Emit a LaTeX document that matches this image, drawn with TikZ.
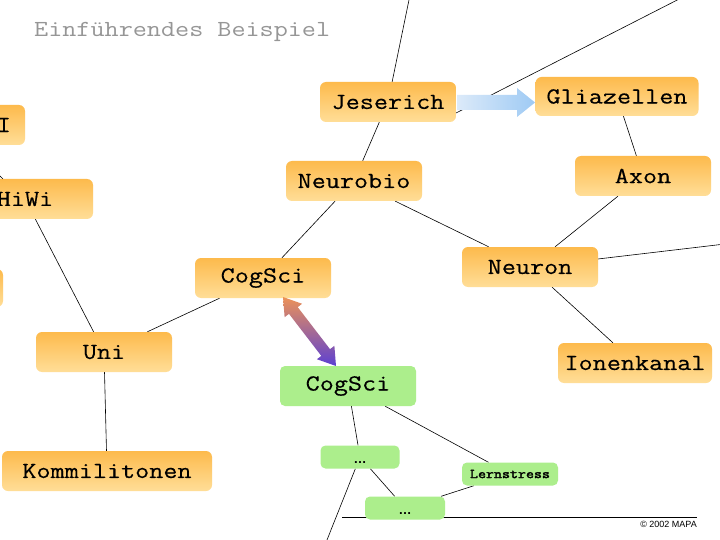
\documentclass[tikz,border=0pt]{standalone}
\usepackage{fontspec}
\setmainfont{Liberation Sans}
\newfontfamily\cour[FakeStretch=1.19,FakeBold=0.4]{Latin Modern Mono}
\newfontfamily\court[FakeStretch=1.19]{Latin Modern Mono}
\newfontfamily\courb[FakeStretch=1.15,FakeBold=2.2]{Latin Modern Mono}
\usetikzlibrary{backgrounds}
\definecolor{otop}{RGB}{253,186,76}
\definecolor{obot}{RGB}{255,222,152}
\definecolor{gfill}{RGB}{172,238,140}
\definecolor{blueL}{RGB}{220,234,249}
\definecolor{blueR}{RGB}{158,202,244}
\definecolor{aOr}{RGB}{236,146,88}
\definecolor{aPu}{RGB}{92,64,210}
\definecolor{titlegray}{RGB}{150,150,150}
\tikzset{
  onode/.style={rectangle, rounded corners=6pt, top color=otop, bottom color=obot, draw=none,
    minimum width=136pt, minimum height=40pt, inner sep=0pt, text=black,
    font=\cour\fontsize{23}{23}\selectfont},
  gnode/.style={rectangle, rounded corners=5pt, fill=gfill, draw=none,
    minimum width=136pt, minimum height=40pt, inner sep=0pt, text=black,
    font=\cour\fontsize{23}{23}\selectfont},
  smallg/.style={gnode, minimum height=23pt},
  dots/.style={font=\bfseries\fontsize{13}{13}\selectfont, text height=12pt, text depth=0pt},
  link/.style={draw=black, line width=0.6pt},
}
\begin{document}
\begin{tikzpicture}[x=1pt,y=-1pt]
\useasboundingbox (0,0) rectangle (720,540);
\clip (0,0) rectangle (720,540);

% nodes
\node[onode, text width=108pt, align=right, inner xsep=14pt] (I) at (-43,125) {I};
\node[onode] (HiWi) at (25,199) {HiWi};
\node[onode, minimum height=38pt] (L3) at (-65,288) {};
\node[onode] (Jeserich) at (388,102) {Jeserich};
\node[onode, minimum width=163pt, minimum height=39pt] (Glia) at (617,96.5) {Gliazellen};
\node[onode] (Neurobio) at (354,181) {Neurobio};
\node[onode] (Axon) at (643,176) {Axon};
\node[onode] (CogSci) at (263,278) {CogSci};
\node[onode] (Neuron) at (530,267) {Neuron};
\node[onode] (Uni) at (104,352) {Uni};
\node[onode, minimum width=154pt] (Ionen) at (635,363) {Ionenkanal};
\node[onode, minimum width=210pt] (Komm) at (107,471) {Kommilitonen};
\node[gnode] (CogSciG) at (348,386) {CogSci};
\node[smallg, minimum width=79pt, dots] (D1) at (360,457) {…};
\node[smallg, minimum width=80pt, dots] (D2) at (405,508) {…};
\node[smallg, minimum width=96pt, font=\courb\fontsize{13.5}{13.5}\selectfont] (Lern) at (510,474) {Lernstress};

% title and copyright
\node[anchor=base west, inner sep=0pt, text=titlegray, font=\court\fontsize{23}{23}\selectfont] (title) at (34,37) {Einführendes Beispiel};
\node[anchor=base east, inner sep=0pt, font=\fontsize{9}{9}\selectfont] (copy) at (697,527) {© 2002 MAPA};

% free ends
\coordinate (topJ) at (410,-5);
\coordinate (jR) at (456,113);
\coordinate (topR) at (687,-5);
\coordinate (rN) at (725,244);
\coordinate (hwA) at (-10,167);
\coordinate (botD) at (325,545);
\coordinate (ruleL) at (342,517);
\coordinate (ruleR) at (697,517);

\begin{scope}[on background layer]
  \fill[white] (0,0) rectangle (720,540);
  \draw[link] (Jeserich) -- (topJ);
  \draw[link] (jR) -- (topR);
  \draw[link] (Jeserich) -- (Neurobio);
  \draw[link] (Glia) -- (Axon);
  \draw[link] (Axon) -- (Neuron);
  \draw[link] (Neurobio) -- (Neuron);
  \draw[link] (Neurobio) -- (CogSci);
  \draw[link] (Neuron) -- (rN);
  \draw[link] (Neuron) -- (Ionen);
  \draw[link] (CogSci) -- (Uni);
  \draw[link] (HiWi) -- (Uni);
  \draw[link] (hwA) -- (HiWi);
  \draw[link] (Uni) -- (Komm);
  \draw[link] (CogSciG) -- (D1);
  \draw[link] (CogSciG) -- (Lern);
  \draw[link] (D1) -- (D2);
  \draw[link] (D1) -- (botD);
  \draw[link] (Lern) -- (D2);
  \draw[draw=black, line width=0.9pt] (ruleL) -- (ruleR);
\end{scope}

% fat arrows
\shade[left color=blueL, right color=blueR]
  (457,95) -- (517,95) -- (517,88) -- (535,102.5) -- (517,117) -- (517,110) -- (457,110) -- cycle;
\shade[top color=aOr, bottom color=aPu]
  (283,297) -- (284.63,317.18) -- (288.99,313.83) -- (321.29,355.87) -- (316.93,359.22) -- (336,366)
  -- (334.37,345.82) -- (330.01,349.17) -- (297.71,307.13) -- (302.07,303.78) -- cycle;
\end{tikzpicture}
\end{document}
